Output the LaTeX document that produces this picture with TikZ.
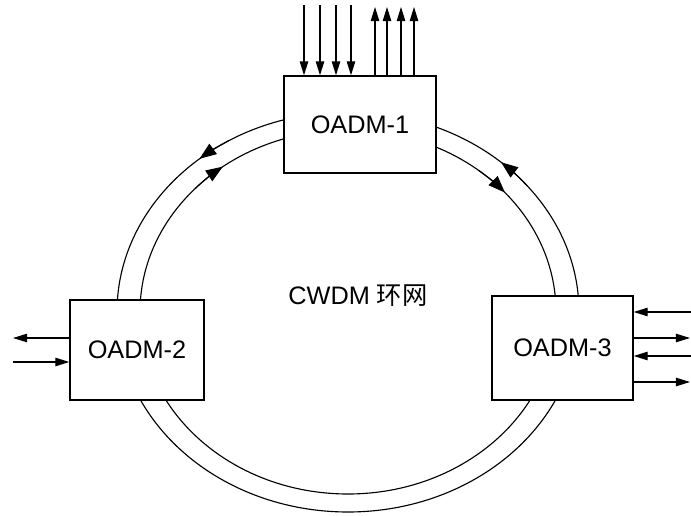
\documentclass[tikz,border=0pt]{standalone}
\usepackage{fontspec}
\setmainfont{Liberation Sans}
\newfontfamily\cjk{Noto Sans CJK SC}
\usetikzlibrary{arrows.meta}
\tikzset{
  oadm/.style={draw, line width=0.9pt, fill=white, inner sep=0pt},
  fiber/.style={line width=0.8pt},
  sig/.style={line width=0.8pt, -{Triangle[length=10pt,width=6pt]}},
  flow/.style={line width=0.8pt, -{Triangle[length=12pt,width=9pt]}}
}
\begin{document}
\begin{tikzpicture}[x=0.025cm, y=0.025cm, font=\fontsize{18pt}{22pt}\selectfont]
\useasboundingbox (0,0) rectangle (691,515);
% Ring centre
\coordinate (ring) at (348,203);
% Draw the two fibres of the ring
\draw[fiber] (ring) ellipse [x radius=231, y radius=200];
\draw[fiber] (ring) ellipse [x radius=208, y radius=182];
% Direction on the outer fibre
\draw[flow] ([shift={(121:231 and 200)}]ring) arc [start angle=121, end angle=130, x radius=231, y radius=200];
\draw[flow] ([shift={(39:231 and 200)}]ring) arc [start angle=39, end angle=48.5, x radius=231, y radius=200];
% Direction on the inner fibre
\draw[flow] ([shift={(137:208 and 182)}]ring) arc [start angle=137, end angle=127, x radius=208, y radius=182];
\draw[flow] ([shift={(51:208 and 182)}]ring) arc [start angle=51, end angle=41, x radius=208, y radius=182];
% The three add/drop nodes
\node[oadm, minimum width=3.8cm, minimum height=2.425cm] (m1) at (360,390.5) {OADM-1};
\node[oadm, minimum width=3.35cm, minimum height=2.5cm] (m2) at (137,165) {OADM-2};
\node[oadm, minimum width=3.525cm, minimum height=2.6cm] (m3) at (562.5,167) {OADM-3};
% Label
\node (lbl) at (358,219) {CWDM {\cjk 环网}};
% Channels at OADM-1
\foreach \x [count=\i] in {304,320,336,351} {
  \coordinate (in\i) at (\x,510);
  \draw[sig] (in\i) -- (in\i |- m1.north);
}
\foreach \x [count=\i] in {375,387,401,414} {
  \coordinate (out\i) at (\x,508);
  \draw[sig] (out\i |- m1.north) -- (out\i);
}
% Channels at OADM-2
\coordinate (w2a) at (13,177);
\coordinate (w2b) at (13,153);
\draw[sig] (w2a -| m2.west) -- (w2a);
\draw[sig] (w2b) -- (w2b -| m2.west);
% Channels at OADM-3
\coordinate (e3a) at (691,203);
\coordinate (e3b) at (690,177);
\coordinate (e3c) at (691,159);
\coordinate (e3d) at (690,133);
\draw[sig] (e3a) -- (e3a -| m3.east);
\draw[sig] (e3b -| m3.east) -- (e3b);
\draw[sig] (e3c) -- (e3c -| m3.east);
\draw[sig] (e3d -| m3.east) -- (e3d);
\end{tikzpicture}
\end{document}
